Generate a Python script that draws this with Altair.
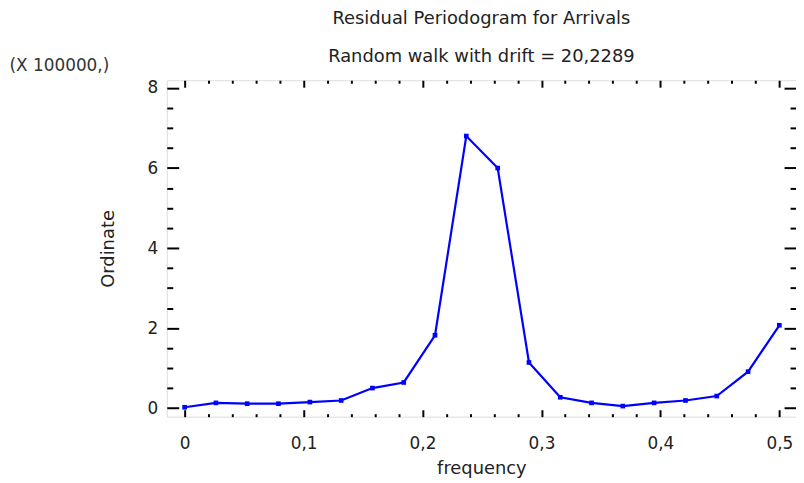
import altair as alt
import pandas as pd

# Data
frequency = [0.0, 0.0263, 0.0526, 0.0789, 0.1053, 0.1316, 0.1579, 0.1842, 0.2105, 0.2368,
             0.2632, 0.2895, 0.3158, 0.3421, 0.3684, 0.3947, 0.4211, 0.4474, 0.4737, 0.5]
ordinate = [0.02, 0.13, 0.11, 0.11, 0.15, 0.19, 0.50, 0.64, 1.82, 6.80,
            6.00, 1.14, 0.27, 0.13, 0.05, 0.13, 0.19, 0.30, 0.91, 2.07]

x_major = [0, 0.1, 0.2, 0.3, 0.4, 0.5]
x_minor = [0.02, 0.04, 0.06, 0.08, 0.12, 0.14, 0.16, 0.18, 0.22, 0.24, 0.26, 0.28,
           0.32, 0.34, 0.36, 0.38, 0.42, 0.44, 0.46, 0.48]
y_major = [0, 2, 4, 6, 8]
y_minor = [0.5, 1, 1.5, 2.5, 3, 3.5, 4.5, 5, 5.5, 6.5, 7, 7.5]

df = pd.DataFrame({"frequency": frequency, "ordinate": ordinate})

FONT = "DejaVu Sans"
BLUE = "#0000FF"
TXT = "#222222"
xs = alt.Scale(domain=[-0.015, 0.514], nice=False, zero=False)
ys = alt.Scale(domain=[-0.215, 8.195], nice=False, zero=False)
label_expr = "replace(format(datum.value, ''), '.', ',')"

base = alt.Chart(df)

main = base.mark_line(color=BLUE, strokeWidth=2.2, point=alt.OverlayMarkDef(
    shape="square", size=22, filled=True, color=BLUE)).encode(
    x=alt.X("frequency:Q", scale=xs, axis=alt.Axis(
        orient="bottom", values=x_major, ticks=False, domain=False, grid=False,
        labelExpr=label_expr, labelPadding=19, labelFontSize=17, labelFont=FONT,
        labelColor=TXT, title="frequency", titleFont=FONT, titleFontSize=18,
        titleFontWeight="normal", titleColor=TXT, titlePadding=8)),
    y=alt.Y("ordinate:Q", scale=ys, axis=alt.Axis(
        orient="left", values=y_major, ticks=False, domain=False, grid=False,
        labelPadding=9, labelFontSize=17, labelFont=FONT, labelColor=TXT,
        title="Ordinate", titleFont=FONT, titleFontSize=18, titleFontWeight="normal",
        titleColor=TXT, titlePadding=30)),
)


def tick_layer(xorient, yorient, xvals, yvals, xsize, ysize, ytitle=None):
    yaxis_kwargs = dict(orient=yorient, values=yvals, labels=False, domain=False,
                        grid=False, tickSize=alt.ExprRef(f"-{ysize}"),
                        tickWidth=2, tickColor="black")
    if ytitle is not None:
        yaxis_kwargs.update(title=ytitle, titleAngle=0, titleAlign="left",
                            titleBaseline="middle", titleX=-159, titleY=-15,
                            titleFont=FONT, titleFontSize=17, titleFontWeight="normal",
                            titleColor="#333333")
    else:
        yaxis_kwargs.update(title=None)
    return base.mark_line(opacity=0).encode(
        x=alt.X("frequency:Q", scale=xs, axis=alt.Axis(
            orient=xorient, values=xvals, labels=False, domain=False, grid=False,
            tickSize=alt.ExprRef(f"-{xsize}"), tickWidth=2, tickColor="black",
            title=None)),
        y=alt.Y("ordinate:Q", scale=ys, axis=alt.Axis(**yaxis_kwargs)),
    )


layers = [
    tick_layer("bottom", "left", x_major, y_major, 7, 12, ytitle="(X 100000,)"),
    tick_layer("bottom", "left", x_minor, y_minor, 3, 6),
    tick_layer("top", "right", x_major, y_major, 7, 12),
    tick_layer("top", "right", x_minor, y_minor, 3, 6),
    main,
]

chart = alt.layer(*layers).resolve_axis(x="independent", y="independent").properties(
    width=634, height=339,
    autosize=alt.AutoSizeParams(type="none"),
    padding={"left": 160, "top": 71, "right": 0, "bottom": 60},
    title=alt.TitleParams(
        text="Residual Periodogram for Arrivals",
        subtitle="Random walk with drift = 20,2289",
        anchor="middle", font=FONT, fontSize=18, fontWeight="normal", color=TXT,
        subtitleFont=FONT, subtitleFontSize=18, subtitleColor=TXT,
        subtitlePadding=21, offset=-10),
).configure_view(stroke="black", strokeWidth=2).configure(background="white")

chart.save("out.html", embed_options={"renderer": "svg", "actions": False})
